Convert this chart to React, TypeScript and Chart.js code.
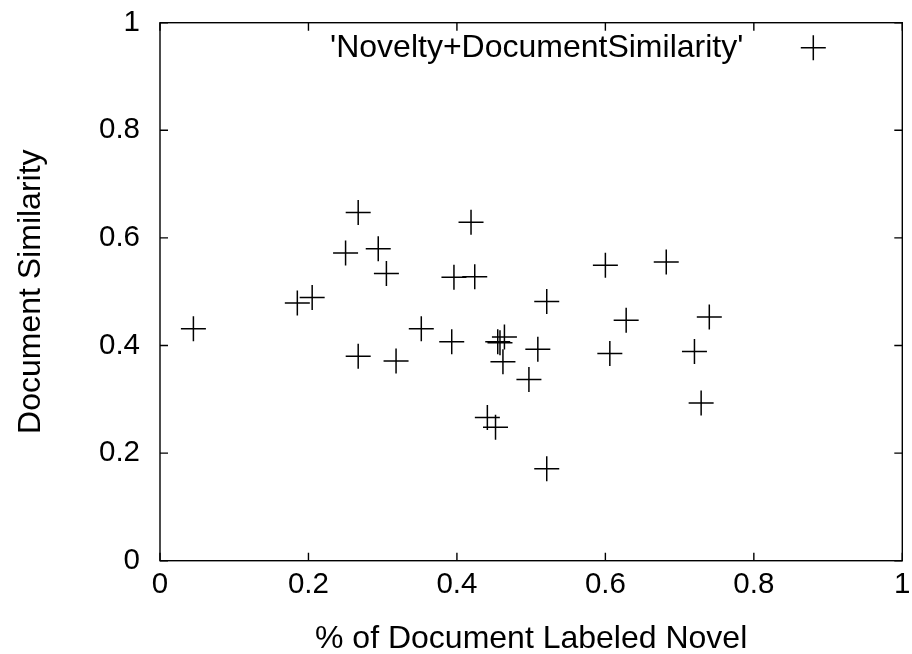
import React, { useEffect, useRef } from "react";
import { Chart, registerables } from "chart.js";

Chart.register(...registerables);

const seriesLabel = "'Novelty+DocumentSimilarity'";
const xTitle = "% of Document Labeled Novel";
const yTitle = "Document Similarity";

const xValues = [
  0.045, 0.185, 0.205, 0.267, 0.25, 0.294, 0.305, 0.352, 0.267, 0.318,
  0.419, 0.396, 0.424, 0.6, 0.682, 0.521, 0.393, 0.455, 0.458, 0.464,
  0.462, 0.509, 0.497, 0.628, 0.606, 0.74, 0.72, 0.441, 0.452, 0.521, 0.729,
];
const yValues = [
  0.431, 0.479, 0.489, 0.647, 0.572, 0.58, 0.534, 0.431, 0.38, 0.371,
  0.629, 0.527, 0.528, 0.549, 0.555, 0.482, 0.407, 0.407, 0.405, 0.416,
  0.37, 0.393, 0.337, 0.447, 0.385, 0.453, 0.389, 0.266, 0.248, 0.171, 0.293,
];

const xTicks = [0, 0.2, 0.4, 0.6, 0.8, 1];
const xTickLabels = ["0", "0.2", "0.4", "0.6", "0.8", "1"];
const yTicks = [0, 0.2, 0.4, 0.6, 0.8, 1];
const yTickLabels = ["0", "0.2", "0.4", "0.6", "0.8", "1"];

const FONT = "'Liberation Sans', Arial, Helvetica, sans-serif";

const framePlugin = {
  id: "gnuplotFrame",
  afterDraw(chart: any) {
    const { ctx, chartArea } = chart;
    const xs = chart.scales.x;
    const ys = chart.scales.y;
    const { left, right, top, bottom } = chartArea;
    ctx.save();
    ctx.strokeStyle = "#000";
    ctx.lineWidth = 1.4;
    ctx.beginPath();
    xTicks.forEach((v) => {
      const px = xs.getPixelForValue(v);
      ctx.moveTo(px, bottom);
      ctx.lineTo(px, bottom - 8);
      ctx.moveTo(px, top);
      ctx.lineTo(px, top + 8);
    });
    yTicks.forEach((v) => {
      const py = ys.getPixelForValue(v);
      ctx.moveTo(left, py);
      ctx.lineTo(left + 8, py);
      ctx.moveTo(right, py);
      ctx.lineTo(right - 8, py);
    });
    ctx.stroke();
    ctx.strokeRect(left, top, right - left, bottom - top);

    // legend (inside plot, top-right)
    const ly = top + 25;
    const sx = right - 89;
    ctx.fillStyle = "#000";
    ctx.font = `32px ${FONT}`;
    ctx.textAlign = "right";
    ctx.textBaseline = "middle";
    ctx.fillText(seriesLabel, sx - 70, ly);
    ctx.lineWidth = 1.5;
    ctx.beginPath();
    ctx.moveTo(sx - 12.5, ly);
    ctx.lineTo(sx + 12.5, ly);
    ctx.moveTo(sx, ly - 12.5);
    ctx.lineTo(sx, ly + 12.5);
    ctx.stroke();
    ctx.restore();
  },
};

const zeroPad = (s: any) => {
  s.paddingLeft = 0;
  s.paddingRight = 0;
  s.paddingTop = 0;
  s.paddingBottom = 0;
};

export default function App() {
  const ref = useRef<HTMLCanvasElement>(null);
  useEffect(() => {
    if (!ref.current) return;
    const data = xValues.map((x, i) => ({ x, y: yValues[i] }));
    const chart = new Chart(ref.current, {
      type: "scatter",
      data: {
        datasets: [
          {
            label: seriesLabel,
            data,
            pointStyle: "cross",
            pointRadius: 12.5,
            pointHoverRadius: 12.5,
            pointBorderWidth: 1.5,
            pointBorderColor: "#000",
            pointBackgroundColor: "#000",
            borderColor: "#000",
          },
        ],
      },
      options: {
        responsive: false,
        animation: false,
        events: [],
        layout: { autoPadding: false, padding: { top: 22.7, right: 9.7, left: 0, bottom: 0 } },
        plugins: {
          legend: { display: false },
          tooltip: { enabled: false },
        },
        scales: {
          x: {
            type: "linear",
            min: 0,
            max: 1,
            afterBuildTicks: (s: any) => {
              s.ticks = xTicks.map((v) => ({ value: v }));
            },
            afterFit: (s: any) => {
              s.height = 93.3;
              zeroPad(s);
            },
            grid: { display: false, drawTicks: false },
            border: { display: false },
            ticks: {
              padding: 6,
              color: "#000",
              font: { family: FONT, size: 29.5 },
              maxRotation: 0,
              autoSkip: false,
              callback: (_v: any, i: number) => xTickLabels[i],
            },
            title: {
              display: true,
              text: xTitle,
              color: "#000",
              font: { family: FONT, size: 32, lineHeight: 0.9 },
              padding: { top: 0.7, bottom: 0 },
            },
          },
          y: {
            type: "linear",
            min: 0,
            max: 1,
            afterBuildTicks: (s: any) => {
              s.ticks = yTicks.map((v) => ({ value: v }));
            },
            afterFit: (s: any) => {
              s.width = 160;
              zeroPad(s);
            },
            grid: { display: false, drawTicks: false },
            border: { display: false },
            ticks: {
              padding: 20,
              color: "#000",
              font: { family: FONT, size: 29.5 },
              autoSkip: false,
              callback: (_v: any, i: number) => yTickLabels[i],
            },
            title: {
              display: true,
              text: yTitle,
              color: "#000",
              font: { family: FONT, size: 32, lineHeight: 0.9 },
              padding: { top: 17, bottom: 0 },
            },
          },
        },
      },
      plugins: [framePlugin],
    });
    return () => chart.destroy();
  }, []);
  return (
    <div style={{ position: "absolute", left: 0, top: 0, width: 912, height: 654, background: "#fff" }}>
      <canvas ref={ref} width={912} height={654} style={{ display: "block" }} />
    </div>
  );
}
